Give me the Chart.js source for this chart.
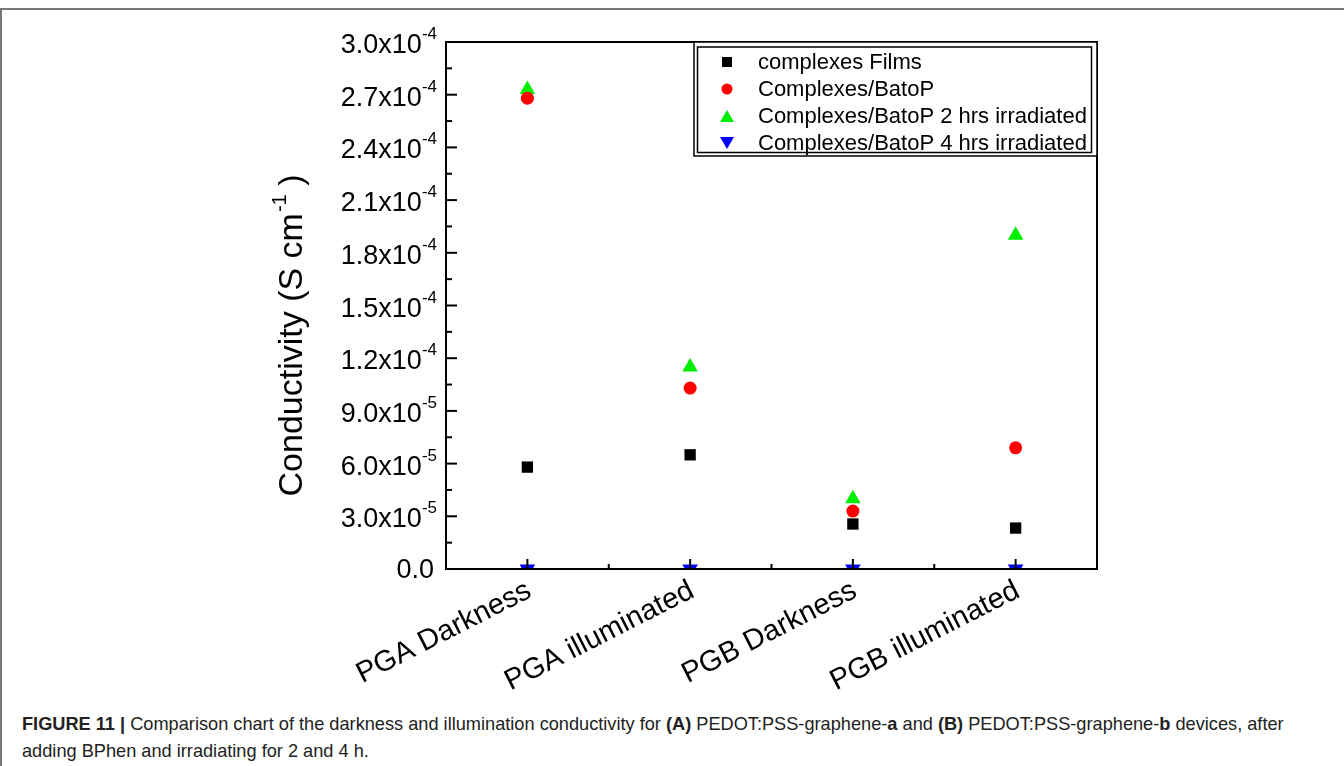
<!DOCTYPE html>
<html>
<head>
<meta charset="utf-8">
<script src="https://cdn.jsdelivr.net/npm/chart.js@4/dist/chart.umd.min.js"></script>
<style>
  html, body { margin: 0; padding: 0; background: #fff; }
  body { width: 1344px; height: 766px; position: relative; overflow: hidden; font-family: "Liberation Sans", Arial, sans-serif; }
  #frame { position: absolute; left: 0; top: 8px; width: 1344px; height: 758px; border-top: 2px solid #777; border-left: 2px solid #777; box-sizing: border-box; }
  #wrap { position: absolute; left: 0; top: 0; width: 1344px; height: 700px; }
  #caption { position: absolute; left: 22px; top: 711px; width: 1320px; font-size: 18.2px; line-height: 27px; color: #222; white-space: nowrap; }
</style>
</head>
<body>
<div id="frame"></div>
<div id="wrap"><canvas id="chart1"></canvas></div>
<div id="caption"><b>FIGURE 11 |</b> Comparison chart of the darkness and illumination conductivity for <b>(A)</b> PEDOT:PSS-graphene-<b>a</b> and <b>(B)</b> PEDOT:PSS-graphene-<b>b</b> devices, after<br>adding BPhen and irradiating for 2 and 4 h.</div>
<script>
// categories and values (S cm^-1)
const categories = ['PGA Darkness', 'PGA illuminated', 'PGB Darkness', 'PGB illuminated'];
const films = [5.8e-5, 6.5e-5, 2.56e-5, 2.33e-5];
const batoP = [2.68e-4, 1.03e-4, 3.3e-5, 6.9e-5];
const batoP2h = [2.73e-4, 1.15e-4, 4.0e-5, 1.9e-4];
const batoP4h = [0, 0, 0, 0];
const yTicks = [0, 3e-5, 6e-5, 9e-5, 1.2e-4, 1.5e-4, 1.8e-4, 2.1e-4, 2.4e-4, 2.7e-4, 3.0e-4];

const FONT = '"Liberation Sans", Arial, sans-serif';

// split a tick value into mantissa / exponent
function sci(v) {
  if (v === 0) return null;
  let e = Math.floor(Math.log10(v) + 1e-9);
  let m = v / Math.pow(10, e);
  return { m: m.toFixed(1), e: String(e) };
}

const axesPlugin = {
  id: 'axesDeco',
  afterDraw(chart) {
    const ctx = chart.ctx;
    const a = chart.chartArea;
    const ys = chart.scales.y;
    const xs = chart.scales.x;
    ctx.save();
    ctx.strokeStyle = '#000';
    ctx.lineWidth = 2;
    // frame
    ctx.strokeRect(a.left, a.top, a.right - a.left, a.bottom - a.top);

    // y ticks (inward) and labels
    ctx.fillStyle = '#000';
    for (let i = 0; i < yTicks.length; i++) {
      const py = ys.getPixelForValue(yTicks[i]);
      ctx.beginPath();
      ctx.moveTo(a.left, py); ctx.lineTo(a.left + 11, py);
      ctx.stroke();
      if (i < yTicks.length - 1) {
        const pm = ys.getPixelForValue((yTicks[i] + yTicks[i + 1]) / 2);
        ctx.beginPath();
        ctx.moveTo(a.left, pm); ctx.lineTo(a.left + 6, pm);
        ctx.stroke();
      }
      const s = sci(yTicks[i]);
      const xr = a.left - 9;
      if (!s) {
        ctx.font = '27px ' + FONT;
        ctx.textAlign = 'right';
        ctx.textBaseline = 'middle';
        ctx.fillText('0.0', xr - 3, py + 2);
      } else {
        ctx.font = '17px ' + FONT;
        const sup = '-' + s.e.replace('-', '');
        const supW = ctx.measureText(sup).width;
        ctx.textAlign = 'right';
        ctx.textBaseline = 'alphabetic';
        ctx.fillText(sup, xr, py - 3);
        ctx.font = '27px ' + FONT;
        ctx.fillText(s.m + 'x10', xr - supW, py + 11);
      }
    }

    // x ticks (inward) and rotated labels
    const n = categories.length;
    const half = (xs.getPixelForValue(1) - xs.getPixelForValue(0)) / 2;
    for (let i = 0; i < n; i++) {
      const px = xs.getPixelForValue(i);
      ctx.beginPath();
      ctx.moveTo(px, a.bottom); ctx.lineTo(px, a.bottom - 10);
      ctx.stroke();
      if (i < n - 1) {
        ctx.beginPath();
        ctx.moveTo(px + half, a.bottom); ctx.lineTo(px + half, a.bottom - 5);
        ctx.stroke();
      }
      ctx.save();
      ctx.translate(px + 2, a.bottom + 20);
      ctx.rotate(-27 * Math.PI / 180);
      ctx.font = '29px ' + FONT;
      ctx.textAlign = 'right';
      ctx.textBaseline = 'middle';
      ctx.fillText(categories[i], 0, 0);
      ctx.restore();
    }

    // y axis title with superscript
    ctx.save();
    ctx.translate(302, (a.top + a.bottom) / 2 + 30);
    ctx.rotate(-Math.PI / 2);
    ctx.font = '34px ' + FONT;
    const t1 = 'Conductivity (S cm';
    const w1 = ctx.measureText(t1).width;
    ctx.font = '20px ' + FONT;
    const w2 = ctx.measureText('-1').width;
    ctx.font = '34px ' + FONT;
    const w3 = ctx.measureText(' )').width;
    let x0 = -(w1 + w2 + w3) / 2;
    ctx.textAlign = 'left';
    ctx.textBaseline = 'alphabetic';
    ctx.fillText(t1, x0, 0);
    ctx.font = '20px ' + FONT;
    ctx.fillText('-1', x0 + w1 + 1, -16);
    ctx.font = '34px ' + FONT;
    ctx.fillText(' )', x0 + w1 + w2, 0);
    ctx.restore();

    // legend box (double border) in the upper right
    const lx = 694, ly = a.top, lr = a.right, lb = 156;
    ctx.lineWidth = 1.5;
    ctx.fillStyle = '#fff';
    ctx.fillRect(lx, ly, lr - lx, lb - ly);
    ctx.strokeRect(lx, ly, lr - lx, lb - ly);
    ctx.strokeRect(lx + 3.5, ly + 5, lr - lx - 9, lb - ly - 8.5);
    const rowY = [62, 89, 116, 143];
    chart.data.datasets.forEach((ds, k) => {
      const cy = rowY[k];
      const cx = 727;
      ctx.fillStyle = ds.backgroundColor;
      ctx.beginPath();
      if (ds.pointStyle === 'rect') {
        ctx.rect(cx - 5, cy - 5, 10, 10);
      } else if (ds.pointStyle === 'circle') {
        ctx.arc(cx, cy, 5.5, 0, Math.PI * 2);
      } else if (ds.pointRotation === 180) {
        ctx.moveTo(cx - 7, cy - 6); ctx.lineTo(cx + 7, cy - 6); ctx.lineTo(cx, cy + 6);
      } else {
        ctx.moveTo(cx - 7, cy + 6); ctx.lineTo(cx + 7, cy + 6); ctx.lineTo(cx, cy - 6);
      }
      ctx.closePath();
      ctx.fill();
      ctx.fillStyle = '#000';
      ctx.font = '22px ' + FONT;
      ctx.textAlign = 'left';
      ctx.textBaseline = 'middle';
      ctx.fillText(ds.label, 758, cy + 1);
    });
    ctx.restore();
  }
};

const data = {
  labels: categories,
  datasets: [
    { label: 'complexes Films', data: films, pointStyle: 'rect', pointRadius: 8, backgroundColor: '#000000', borderColor: '#000000' },
    { label: 'Complexes/BatoP', data: batoP, pointStyle: 'circle', pointRadius: 6.5, backgroundColor: '#ff0000', borderColor: '#ff0000' },
    { label: 'Complexes/BatoP 2 hrs irradiated', data: batoP2h, pointStyle: 'triangle', pointRadius: 9, backgroundColor: '#00ee00', borderColor: '#00ee00' },
    { label: 'Complexes/BatoP 4 hrs irradiated', data: batoP4h, pointStyle: 'triangle', pointRotation: 180, pointRadius: 9, backgroundColor: '#0000ff', borderColor: '#0000ff' }
  ].map(d => Object.assign(d, { showLine: false, borderWidth: 0, pointBorderWidth: 0, clip: 0 }))
};

const config = {
  type: 'line',
  data: data,
  options: {
    responsive: true,
    maintainAspectRatio: false,
    animation: false,
    events: [],
    layout: { padding: { left: 0, top: 42, right: 247, bottom: 0 } },
    plugins: { legend: { display: false }, tooltip: { enabled: false }, title: { display: false } },
    scales: {
      x: {
        type: 'category',
        offset: true,
        grid: { display: false },
        border: { display: false },
        ticks: { display: false },
        afterFit(scale) { scale.height = 131; }
      },
      y: {
        min: 0,
        max: 3e-4,
        grid: { display: false },
        border: { display: false },
        ticks: { display: false, stepSize: 3e-5 },
        afterFit(scale) { scale.width = 446; }
      }
    }
  },
  plugins: [axesPlugin]
};

const myChart = new Chart(document.getElementById('chart1'), config);
</script>
</body>
</html>
